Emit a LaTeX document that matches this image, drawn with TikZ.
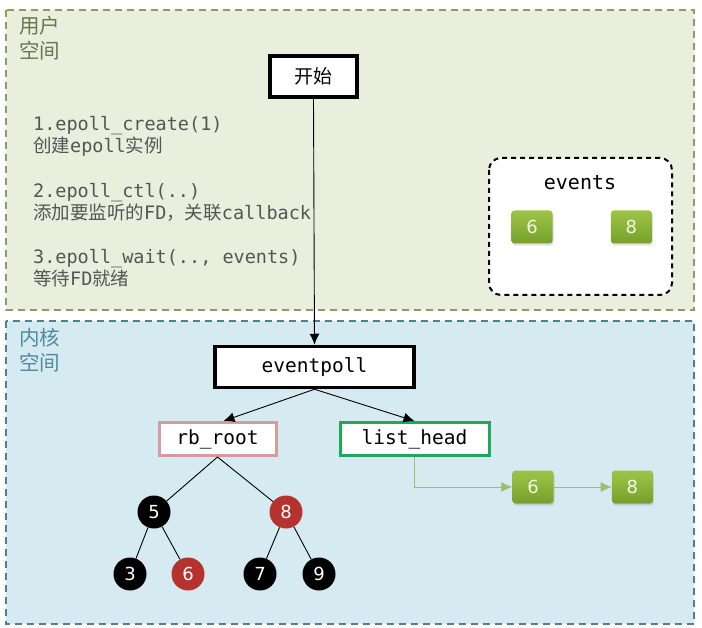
\documentclass[tikz,border=0pt]{standalone}
\usepackage{fontspec}
\setmonofont{DejaVu Sans Mono}
\setsansfont{DejaVu Sans}
\newfontfamily\cjk{Noto Sans CJK SC}
\usepackage{tikz}
\usetikzlibrary{positioning}
\usetikzlibrary{calc}
\usetikzlibrary{shadows}
\usetikzlibrary{arrows.meta}
\definecolor{userfill}{HTML}{E9EEDD}
\definecolor{userline}{HTML}{8E9A62}
\definecolor{userlbl}{HTML}{6A7650}
\definecolor{kernfill}{HTML}{D6EAF2}
\definecolor{kernline}{HTML}{4E8090}
\definecolor{kernlbl}{HTML}{4D8C9C}
\definecolor{rbline}{HTML}{D99A9C}
\definecolor{lhline}{HTML}{1FA85A}
\definecolor{fdtop}{HTML}{9CC547}
\definecolor{fdbot}{HTML}{77A02C}
\definecolor{fdtext}{HTML}{F2F7E2}
\definecolor{linkcol}{HTML}{9CBF6A}
\definecolor{treered}{HTML}{B5322F}
\definecolor{steptext}{HTML}{555555}
\tikzset{x=1pt,y=-1pt,
arr/.style={line width=0.9pt,-{Latex[length=11pt,width=10pt]}},
areabox/.style={dash pattern=on 7pt off 5pt,line width=1.5pt},
areatext/.style={anchor=north west,inner sep=0pt,align=left,font=\cjk\fontsize{20.5}{25}\selectfont},
steptxt/.style={anchor=north west,inner sep=0pt,align=left,text=steptext,font=\ttfamily\fontsize{18.5}{22}\selectfont},
blackbox/.style={draw,line width=3.5pt,fill=white,minimum height=41pt,font=\ttfamily\fontsize{19.5}{20}\selectfont},
listbox/.style={draw,line width=3pt,fill=white,minimum height=33pt,font=\ttfamily\fontsize{19.5}{20}\selectfont},
fdbox/.style={rounded corners=3pt,top color=fdtop,bottom color=fdbot,minimum width=41pt,minimum height=33pt,text=fdtext,font=\sffamily\fontsize{18}{18}\selectfont,drop shadow={opacity=0.25,shadow xshift=1pt,shadow yshift=-2pt}},
rbnode/.style={circle,minimum size=33pt,inner sep=0pt,text=white,font=\sffamily\fontsize{18}{18}\selectfont}}

\begin{document}
\begin{tikzpicture}
\useasboundingbox (0,0) rectangle (702,628);
% user space / kernel space
\draw[areabox,draw=userline,fill=userfill] (6,10) rectangle (694,310);
\draw[areabox,draw=kernline,fill=kernfill] (6,321) rectangle (694,624);
\node (ulbl) at (19,16) [areatext,text=userlbl] {用户\\空间};
\node (klbl) at (19,328) [areatext,text=kernlbl] {内核\\空间};

% steps
\node (step1) at (33,116) [steptxt] {1.epoll\_create(1)\\{\cjk 创建}epoll{\cjk 实例}};
\node (step2) at (33,183) [steptxt] {2.epoll\_ctl(..)\\{\cjk 添加要监听的}FD{\cjk ，关联}callback};
\node (step3) at (33,249) [steptxt] {3.epoll\_wait(.., events)\\{\cjk 等待}FD{\cjk 就绪}};

% events
\draw[dash pattern=on 5pt off 4pt,line width=2pt,rounded corners=12pt,fill=white] (489,158) rectangle (672,295);
\node (evlbl) at (580,183) [font=\ttfamily\fontsize{20}{20}\selectfont] {events};
\node (ev6) at (532,227) [fdbox] {6};
\node (ev8) [right=58pt of ev6,fdbox] {8};

\node (start) at (313.5,76.5) [blackbox,minimum width=87pt,font=\cjk\fontsize{19}{20}\selectfont] {开始};
\node (ep) at (314.5,367) [blackbox,minimum width=199pt] {eventpoll};
\draw[arr] (start.south) -- (ep.north);

\node (rb) at (217.5,439) [listbox,draw=rbline,minimum width=117pt] {rb\_root};
\node (lh) at (414.5,439) [listbox,draw=lhline,minimum width=149pt] {list\_head};
\draw[arr] (ep.south) -- ($(rb.north)+(6,0)$);
\draw[arr] (ep.south) -- (lh.north);

% red-black tree
\node (t5) at (154,512) [rbnode,fill=black] {5};
\node (t8) at (286,512) [rbnode,fill=treered] {8};
\node (t3) at (130,574) [rbnode,fill=black] {3};
\node (t6) at (188,574) [rbnode,fill=treered] {6};
\node (t7) at (260,574) [rbnode,fill=black] {7};
\node (t9) at (319,574) [rbnode,fill=black] {9};
\foreach \a/\b in {rb.south/t5, rb.south/t8, t5/t3, t5/t6, t8/t7, t8/t9} {
\draw[line width=0.9pt] (\a) -- (\b);
}

% ready list
\node (l6) at (533,487) [fdbox] {6};
\node (l8) [right=58pt of l6,fdbox] {8};
\draw[arr,draw=linkcol] (lh.south) |- (l6.west);
\draw[arr,draw=linkcol] (l6) -- (l8);
\end{tikzpicture}
\end{document}
